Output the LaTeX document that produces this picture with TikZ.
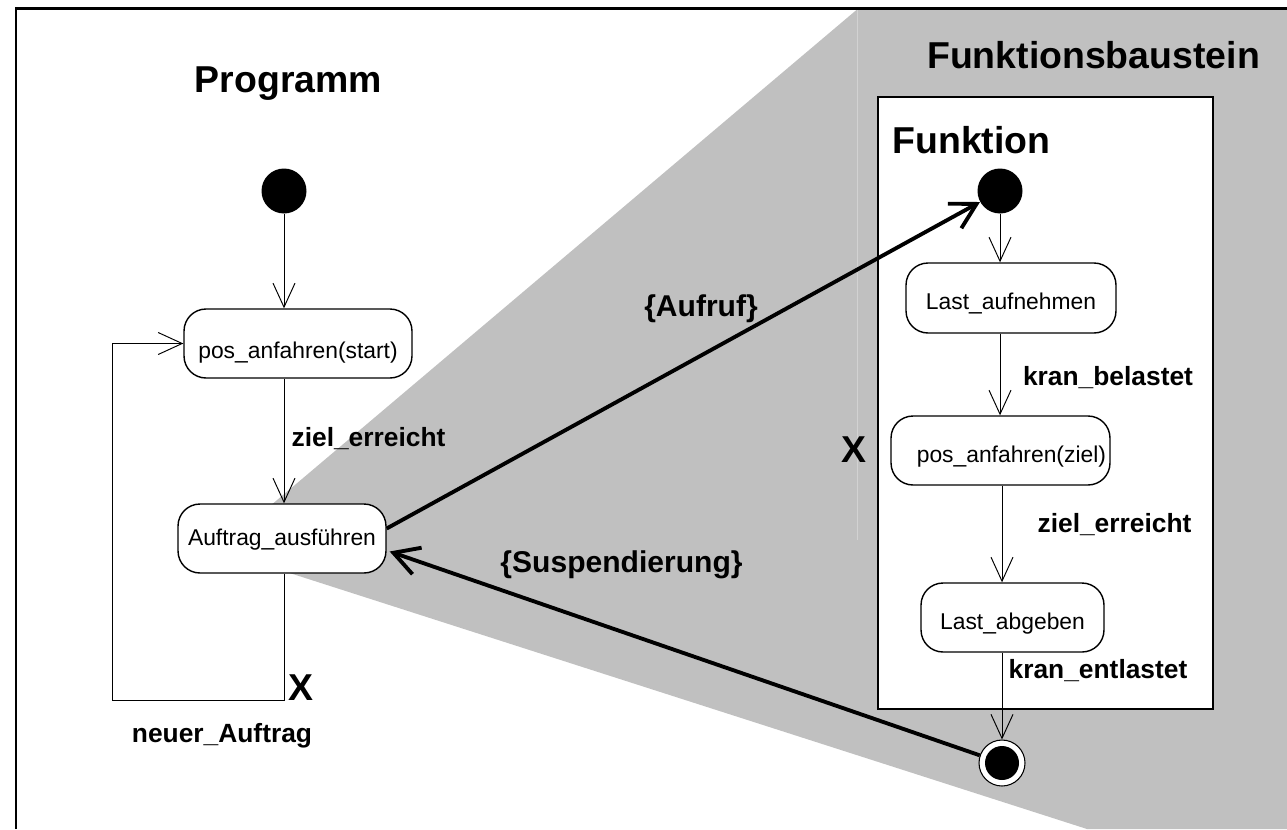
\documentclass[tikz,border=0pt]{standalone}
\usepackage{fontspec}
\setmainfont{Liberation Sans}
\usetikzlibrary{arrows.meta}
\definecolor{zoomgray}{RGB}{192,192,192}
\definecolor{seamgray}{RGB}{210,210,210}

\begin{document}
\begin{tikzpicture}[x=0.02cm,y=-0.02cm,
  statebox/.style={draw, line width=0.8pt, fill=white, rounded corners=0.44cm,
    inner xsep=0pt, inner ysep=0pt, text height=0.92cm, text depth=0.46cm,
    font=\fontsize{13}{15}\selectfont},
  initial/.style={circle, fill=black, inner sep=0pt, minimum size=0.9cm},
  finalring/.style={circle, draw, line width=0.6pt, fill=white, inner sep=0pt, minimum size=0.92cm},
  txt/.style={inner sep=0pt, anchor=base},
  heading/.style={txt, font=\fontsize{21.3}{25}\selectfont\bfseries},
  guard/.style={txt, font=\fontsize{15}{18}\selectfont\bfseries},
  stereo/.style={txt, font=\fontsize{17.1}{20}\selectfont\bfseries},
  flow/.style={line width=0.55pt, -{Straight Barb[length=0.48cm,width=0.44cm]}},
  call/.style={line width=2.2pt, -{Straight Barb[length=0.5cm,width=0.56cm]}},
]
\useasboundingbox (0,0) rectangle (1287,829);

% shaded zoom wedge behind the function block
\fill[zoomgray] (857,9.5) -- (1287,9.5) -- (1287,829) -- (1087,829) -- (218,550) -- cycle;
\draw[seamgray, line width=0.4pt] (857,10) -- (857,540);

% outer frame
\draw[line width=1.6pt] (16,829) -- (16,8.5) -- (1287,8.5);

% function block container
\node[draw, line width=1.3pt, fill=white, inner sep=0pt,
      minimum width=6.7cm, minimum height=12.24cm] (fbox) at (1045.5,403) {};

% headings
\node[heading] (tprog) at (288.5,92) {Programm};
\node[heading] (tfb) at (1093.5,68) {Funktionsbaustein};
\node[heading] (tfn) at (971.5,153) {Funktion};

% program states
\node[initial] (ini1) at (284,191) {};
\node[statebox, minimum width=4.56cm, text height=0.98cm, text depth=0.40cm]
  (pos1) at (298,343.5) {pos\_anfahren(start)};
\node[statebox, minimum width=4.16cm, text height=0.82cm, text depth=0.56cm]
  (auf) at (282,538.5) {Auftrag\_ausführen};
\coordinate (lp) at (112,700);

% function states
\node[initial] (ini2) at (1000,191) {};
\node[statebox, minimum width=4.2cm, text height=0.92cm, text depth=0.48cm]
  (la) at (1011,298) {Last\_aufnehmen};
\node[statebox, inner xsep=0.08cm, text width=4.22cm, align=right]
  (pz) at (1000.5,450.5) {pos\_anfahren(ziel)};
\node[statebox, minimum width=3.66cm] (lab) at (1012.5,617.5) {Last\_abgeben};
\node[finalring] (fin) at (1002,763) {};
\fill (fin) circle (0.34cm);

% transitions of the program
\draw[flow] (ini1) -- (ini1 |- pos1.north);
\draw[flow] (pos1.south -| ini1) -- (auf.north -| ini1);
\draw[flow] (auf.south -| ini1) |- (lp) |- (pos1.west);

% transitions of the function
\draw[flow] (ini2) -- (ini2 |- la.north);
\draw[flow] (la.south -| ini2) -- (pz.north -| ini2);
\draw[flow] (pz.south -| fin) -- (lab.north -| fin);
\draw[flow] (lab.south -| fin) -- (fin);

% call and suspension
\draw[call] ([yshift=0.2cm]auf.east) -- (ini2);
\draw[call] (fin) -- ([xshift=0.06cm,yshift=-0.26cm]auf.east);

% guards and markers
\node[guard] (g1) at (368.5,446) {ziel\_erreicht};
\node[guard] (g2) at (222,742) {neuer\_Auftrag};
\node[heading] (x1) at (300.5,700) {X};
\node[guard] (g3) at (1108,385) {kran\_belastet};
\node[guard] (g4) at (1114.5,532) {ziel\_erreicht};
\node[guard] (g5) at (1098,678) {kran\_entlastet};
\node[heading] (x2) at (854,462) {X};
\node[stereo] (s1) at (701,316) {\{Aufruf\}};
\node[stereo] (s2) at (621.5,572) {\{Suspendierung\}};
\end{tikzpicture}
\end{document}
